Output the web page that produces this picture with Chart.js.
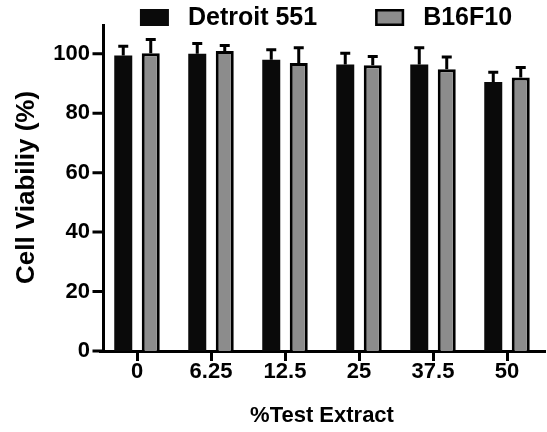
<!DOCTYPE html>
<html>
<head>
<meta charset="utf-8">
<script src="https://cdn.jsdelivr.net/npm/chart.js@4.4.1/dist/chart.umd.min.js"></script>
<style>
html,body{margin:0;padding:0;background:#fff;}
#wrap{width:547px;height:432px;position:relative;}
</style>
</head>
<body>
<div id="wrap"><canvas id="c" width="547" height="432"></canvas></div>
<script>
const categories = ['0', '6.25', '12.5', '25', '37.5', '50'];
const seriesNames = ['Detroit 551', 'B16F10'];
const detroit = [99.4, 100.0, 98.0, 96.4, 96.4, 90.5];
const detroitErr = [3.1, 3.4, 3.3, 3.8, 5.6, 3.3];
const b16 = [100.2, 100.9, 96.9, 96.1, 94.8, 92.0];
const b16Err = [4.6, 1.9, 5.1, 3.0, 4.1, 3.4];
const yTicks = [0, 20, 40, 60, 80, 100];

const FONT = "'Liberation Sans', Arial, sans-serif";

const errorBars = {
  id: 'errorBars',
  afterDatasetsDraw(chart) {
    const ctx = chart.ctx;
    const y = chart.scales.y;
    ctx.save();
    ctx.strokeStyle = '#000';
    ctx.lineWidth = 3;
    chart.data.datasets.forEach((ds, di) => {
      const meta = chart.getDatasetMeta(di);
      meta.data.forEach((bar, i) => {
        const top = y.getPixelForValue(ds.data[i] + ds.errors[i]);
        ctx.beginPath();
        ctx.moveTo(bar.x, bar.y);
        ctx.lineTo(bar.x, top);
        ctx.moveTo(bar.x - 5, top);
        ctx.lineTo(bar.x + 5, top);
        ctx.stroke();
      });
    });
    ctx.restore();
  }
};

const yAxisLine = {
  id: 'yAxisLine',
  afterDraw(chart) {
    const ctx = chart.ctx;
    const y = chart.scales.y;
    const ax = chart.chartArea.left + 3.5;
    ctx.save();
    ctx.strokeStyle = '#000';
    ctx.lineWidth = 3;
    ctx.beginPath();
    ctx.moveTo(ax, chart.chartArea.top);
    ctx.lineTo(ax, chart.chartArea.bottom + 1.5);
    y.ticks.forEach(t => {
      const py = y.getPixelForValue(t.value);
      ctx.moveTo(ax - 11, py);
      ctx.lineTo(ax + 1.5, py);
    });
    ctx.stroke();
    ctx.restore();
  }
};

const customLegend = {
  id: 'customLegend',
  afterDraw(chart) {
    const ctx = chart.ctx;
    ctx.save();
    ctx.font = 'bold 25px ' + FONT;
    ctx.textBaseline = 'middle';
    const boxW = 29, boxH = 17, gapText = 19, gapItem = 58;
    const widths = chart.data.datasets.map(d => ctx.measureText(d.label).width);
    const total = widths.reduce((a, w) => a + boxW + gapText + w, 0) + gapItem * (widths.length - 1);
    let x = (chart.chartArea.left + chart.chartArea.right) / 2 - total / 2 + 4;
    const cy = 17.5;
    chart.data.datasets.forEach((d, i) => {
      ctx.fillStyle = d.backgroundColor;
      ctx.fillRect(x, cy - boxH / 2, boxW, boxH);
      if (d.borderWidth) {
        ctx.strokeStyle = '#000';
        ctx.lineWidth = 2.5;
        ctx.strokeRect(x + 1.25, cy - boxH / 2 + 1.25, boxW - 2.5, boxH - 2.5);
      }
      ctx.fillStyle = '#000';
      ctx.fillText(d.label, x + boxW + gapText, cy + 1);
      x += boxW + gapText + widths[i] + gapItem;
    });
    ctx.restore();
  }
};

new Chart(document.getElementById('c'), {
  type: 'bar',
  data: {
    labels: categories,
    datasets: [
      { label: seriesNames[0], data: detroit, errors: detroitErr, backgroundColor: '#0a0a0a', borderWidth: 0 },
      { label: seriesNames[1], data: b16, errors: b16Err, backgroundColor: '#8c8c8c', borderColor: '#000', borderWidth: 3 }
    ]
  },
  options: {
    responsive: false,
    animation: false,
    devicePixelRatio: 1,
    categoryPercentage: 0.743,
    barPercentage: 0.655,
    layout: { padding: { top: 24, right: 3, left: 0, bottom: 0 } },
    plugins: {
      legend: { display: false },
      tooltip: { enabled: false }
    },
    scales: {
      x: {
        grid: { display: true, drawOnChartArea: false, offset: false, tickLength: 10, lineWidth: 3, color: '#000' },
        border: { display: true, color: '#000', width: 3 },
        ticks: { color: '#000', padding: 0, font: { family: FONT, size: 22, weight: 'bold', lineHeight: 1.0 }, maxRotation: 0 },
        title: { display: true, text: '%Test Extract', color: '#000', padding: { top: 0, bottom: 3 }, font: { family: FONT, size: 22, weight: 'bold' } },
        afterFit(s) { s.height = 81; }
      },
      y: {
        min: 0, max: 110,
        grid: { display: false, drawTicks: false },
        border: { display: false },
        ticks: { stepSize: 20, color: '#000', padding: 10, font: { family: FONT, size: 22, weight: 'bold' } },
        afterBuildTicks(s) { s.ticks = yTicks.map(v => ({ value: v })); },
        title: { display: true, text: 'Cell Viabiliy (%)', color: '#000', padding: { top: 11, bottom: 0 }, font: { family: FONT, size: 26, weight: 'bold' } },
        afterFit(s) { s.width = 100; }
      }
    }
  },
  plugins: [errorBars, yAxisLine, customLegend]
});
</script>
</body>
</html>
